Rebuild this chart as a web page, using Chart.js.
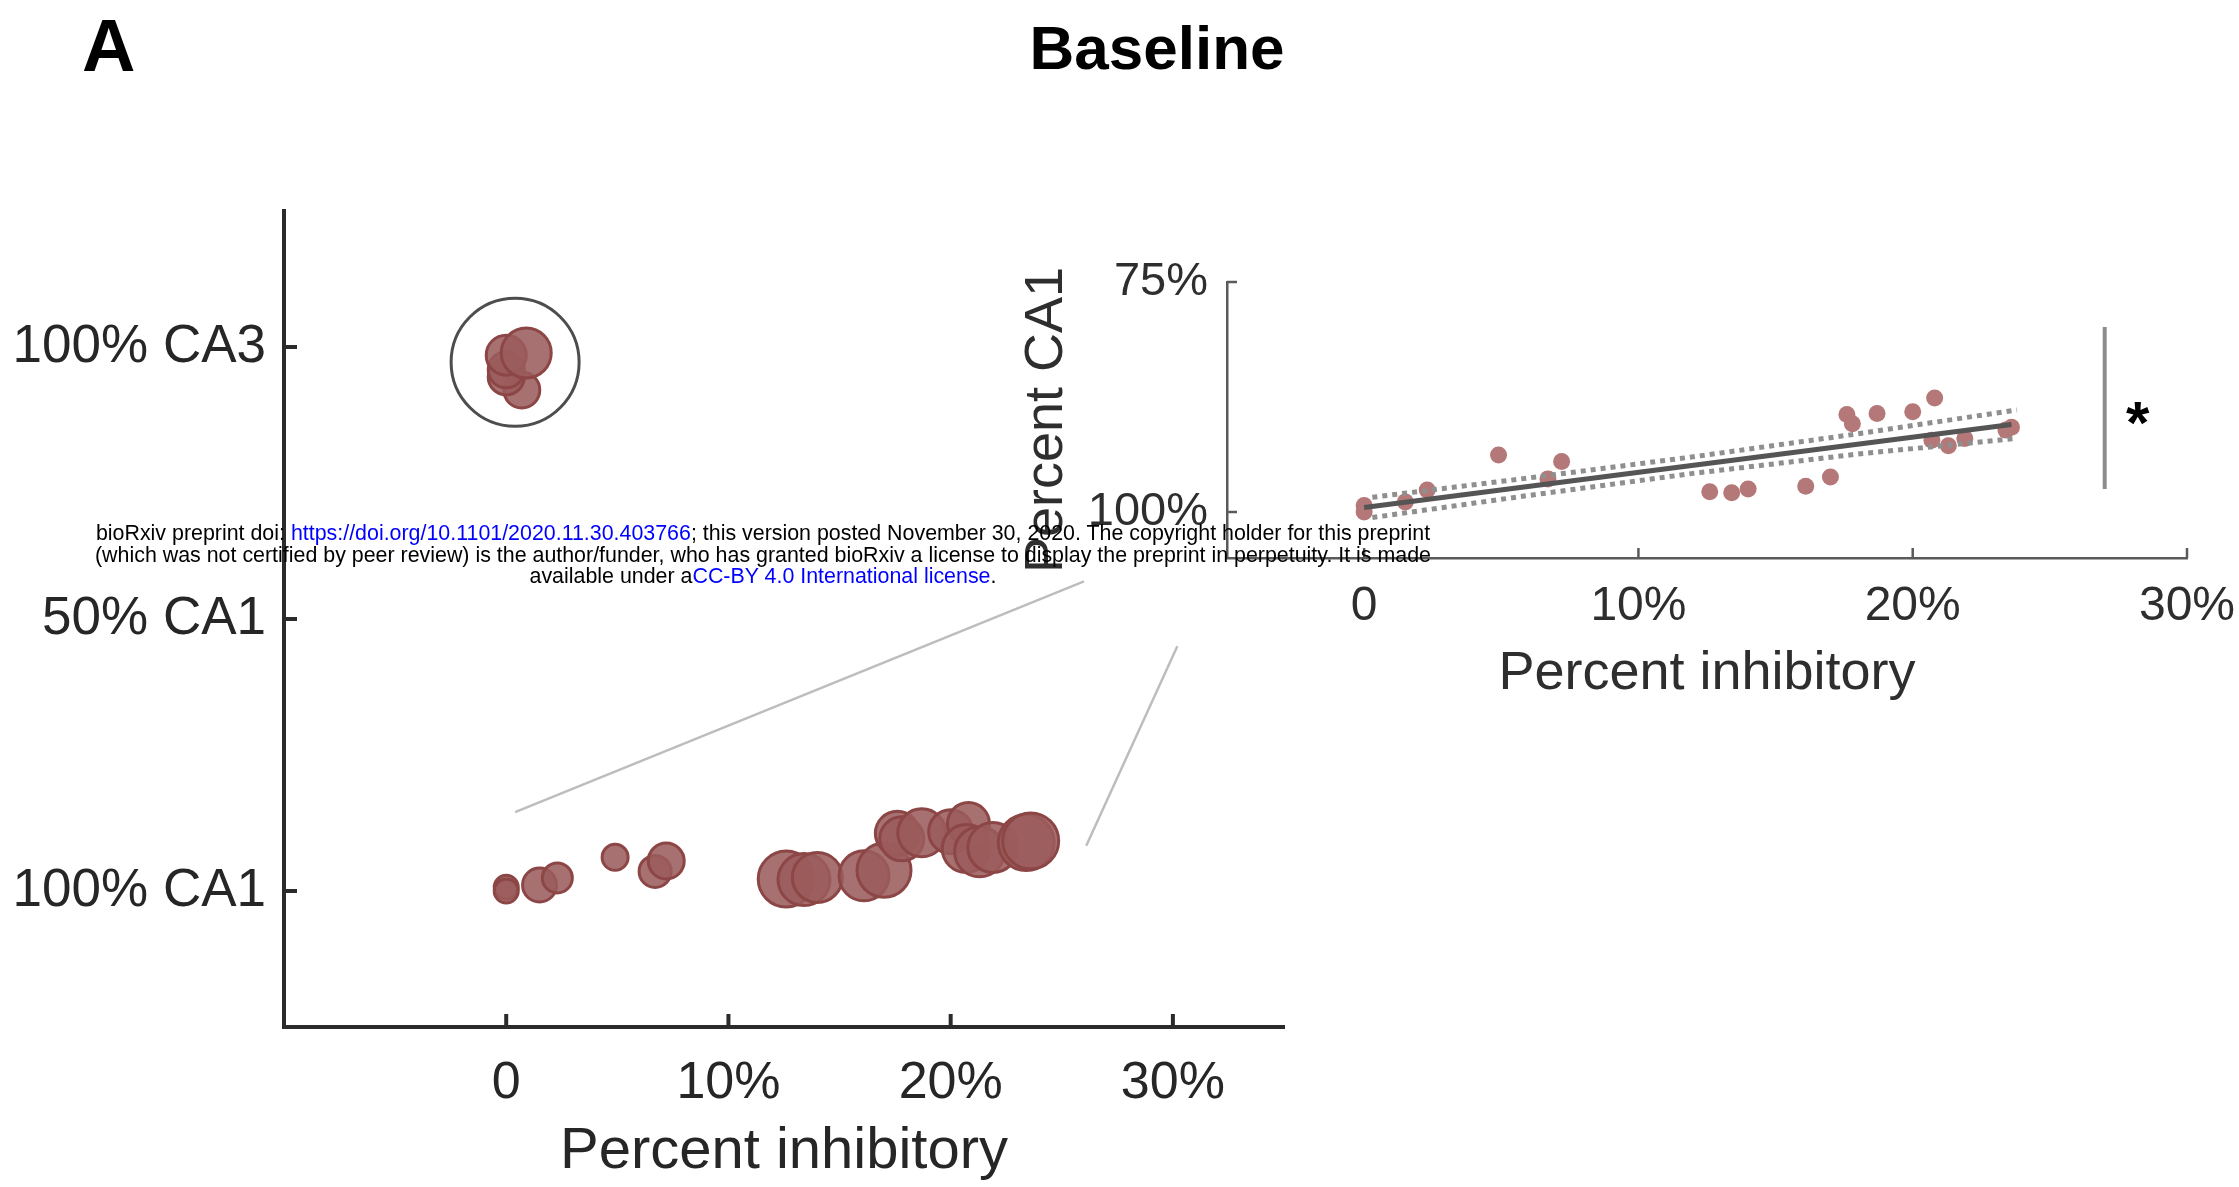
<!DOCTYPE html>
<html>
<head>
<meta charset="utf-8">
<title>Baseline</title>
<script src="https://cdn.jsdelivr.net/npm/chart.js@4.4.1/dist/chart.umd.min.js"></script>
<style>
  html, body { margin: 0; padding: 0; background: #fff; overflow: hidden; }
  body { position: relative; width: 2239px; height: 1187px; font-family: 'Liberation Sans', Arial, sans-serif; }
  canvas { position: absolute; }
  #main { left: 0; top: 0; z-index: 1; }
  #inset { left: 1000px; top: 200px; z-index: 2; }
  .txt { position: absolute; white-space: nowrap; color: #000; z-index: 3; }
  #panel { left: 82px; top: 9px; font: bold 74px/74px 'Liberation Sans', Arial, sans-serif; }
  #title { left: 857px; width: 600px; top: 17px; text-align: center; font: bold 62px/62px 'Liberation Sans', Arial, sans-serif; }
  #notice { left: 0; width: 1526px; top: 523px; text-align: center; font: 21.4px/21.6px 'Liberation Sans', Arial, sans-serif; }
  #notice span { color: #0000ff; }
</style>
</head>
<body>
<canvas id="main" width="1351" height="1187"></canvas>
<canvas id="inset" width="1239" height="560"></canvas>
<div id="panel" class="txt">A</div>
<div id="title" class="txt">Baseline</div>
<div id="notice" class="txt">bioRxiv preprint doi: <span>https://doi.org/10.1101/2020.11.30.403766</span>; this version posted November 30, 2020. The copyright holder for this preprint<br>(which was not certified by peer review) is the author/funder, who has granted bioRxiv a license to display the preprint in perpetuity. It is made<br>available under a<span>CC-BY 4.0 International license</span>.</div>
<script>
// slices recorded in CA1: percent inhibitory cells, percent CA1, bubble weight
const ca1Inhib  = [0, 0, 1.5, 2.3, 4.9, 6.7, 7.2, 12.6, 13.4, 14.0, 16.1, 17.0, 17.6, 17.8, 18.7, 20.0, 20.8, 20.7, 21.3, 21.9, 23.4, 23.6];
const ca1Pct    = [99.3, 100, 98.9, 97.6, 93.8, 96.4, 94.5, 97.8, 97.9, 97.5, 97.2, 96.2, 89.4, 90.4, 89.3, 89.1, 87.6, 92.2, 92.8, 92.0, 91.1, 90.8];
const ca1Weight = [12, 12, 17, 15, 13, 16, 18, 28, 26, 25, 25, 27, 22, 22, 24, 22, 21, 24, 25, 25, 28, 28];

// slices recorded in CA3
const ca3Inhib  = [0.7, 0, 0, 0, 0.9];
const ca3Pct    = [7.9, 5.5, 4.2, 1.5, 1.1];
const ca3Weight = [18, 18, 18, 20, 25];

// ring marking the CA3 group
const ringX = [0.4];
const ringY = [2.8];
const ringWeight = [64];

// guide lines from the CA1 group to the enlarged panel
const guideA = { x: [0.4, 26.0], y: [85.5, 43.1] };
const guideB = { x: [26.1, 30.2], y: [91.7, 55.0] };

// linear fit with confidence band (enlarged panel)
const fitX = [0, 23.6];
const fitY = [99.5, 90.5];
const bandX = [0.3, 6, 12, 18, 23.8];
const bandUpper = [98.4, 96.3, 94.0, 91.5, 88.9];
const bandLower = [100.6, 98.2, 95.8, 93.7, 92.0];

// significance bar and marker
const sigX = [27.0, 27.0];
const sigY = [79.9, 97.5];
const starAt = { x: 28.2, y: 89.1 };

// ticks
const xTickValues = [0, 10, 20, 30];
const xTickLabels = ['0', '10%', '20%', '30%'];
const mainYTickValues = [0, 50, 100];
const mainYTickLabels = ['100% CA3', '50% CA1', '100% CA1'];
const insetYTickValues = [75, 100];
const insetYTickLabels = ['75%', '100%'];

const FONT = "'Liberation Sans', Arial, sans-serif";
const BUBBLE_FILL = 'rgba(155, 92, 92, 0.87)';
const BUBBLE_EDGE = '#8c4646';

const zipPts = (xs, ys) => xs.map((x, i) => ({ x, y: ys[i] }));
const zipBubbles = (xs, ys, ws) => xs.map((x, i) => ({ x, y: ys[i], r: ws[i] }));

function fixedTicks(values) {
  return scale => { scale.ticks = values.map(v => ({ value: v })); };
}
function labelFor(values, labels) {
  return v => labels[values.indexOf(v)];
}
function fixedSize(prop, size) {
  return scale => {
    scale[prop] = size;
    scale.paddingLeft = scale.paddingRight = scale.paddingTop = scale.paddingBottom = 0;
  };
}

// MATLAB-style tick marks that point into the plot
function inwardTicks(len, width, color) {
  return {
    id: 'inwardTicks',
    afterDraw(chart) {
      const { ctx, chartArea: a, scales: { x, y } } = chart;
      ctx.save();
      ctx.strokeStyle = color;
      ctx.lineWidth = width;
      ctx.beginPath();
      x.ticks.forEach(t => {
        const px = x.getPixelForValue(t.value);
        ctx.moveTo(px, a.bottom);
        ctx.lineTo(px, a.bottom - len);
      });
      y.ticks.forEach(t => {
        const py = y.getPixelForValue(t.value);
        ctx.moveTo(a.left, py);
        ctx.lineTo(a.left + len, py);
      });
      ctx.stroke();
      ctx.restore();
    }
  };
}

const starPlugin = {
  id: 'star',
  afterDatasetsDraw(chart) {
    const { ctx, scales: { x, y } } = chart;
    ctx.save();
    ctx.fillStyle = '#000';
    ctx.font = 'bold 60px ' + FONT;
    ctx.textAlign = 'center';
    ctx.textBaseline = 'alphabetic';
    ctx.fillText('*', x.getPixelForValue(starAt.x), y.getPixelForValue(starAt.y) + 31);
    ctx.restore();
  }
};

// left panel: all slices
// (bubble overflow forces at least ~66px of side padding, hence right: 66)
new Chart(document.getElementById('main'), {
  type: 'bubble',
  data: {
    datasets: [
      {
        type: 'scatter', data: zipPts(guideA.x, guideA.y), showLine: true,
        borderColor: '#bdbdbd', borderWidth: 2.5, pointRadius: 0
      },
      {
        type: 'scatter', data: zipPts(guideB.x, guideB.y), showLine: true,
        borderColor: '#bdbdbd', borderWidth: 2.5, pointRadius: 0
      },
      {
        data: zipBubbles(ringX, ringY, ringWeight),
        backgroundColor: 'rgba(0,0,0,0)', borderColor: '#4d4d4d', borderWidth: 3
      },
      {
        data: zipBubbles(ca3Inhib, ca3Pct, ca3Weight),
        backgroundColor: BUBBLE_FILL, borderColor: BUBBLE_EDGE, borderWidth: 3
      },
      {
        data: zipBubbles(ca1Inhib, ca1Pct, ca1Weight),
        backgroundColor: BUBBLE_FILL, borderColor: BUBBLE_EDGE, borderWidth: 3
      }
    ]
  },
  options: {
    responsive: false,
    animation: false,
    events: [],
    layout: { padding: { top: 211, right: 66, bottom: 0, left: 0 } },
    plugins: { legend: { display: false }, tooltip: { enabled: false } },
    scales: {
      x: {
        type: 'linear', min: -10, max: 35,
        afterBuildTicks: fixedTicks(xTickValues),
        afterFit: fixedSize('height', 160),
        grid: { display: false, drawTicks: false },
        border: { display: true, color: '#2b2b2b', width: 4 },
        ticks: { callback: labelFor(xTickValues, xTickLabels), color: '#262626', padding: 25, font: { family: FONT, size: 52 } },
        title: { display: true, text: 'Percent inhibitory', color: '#262626', padding: { top: 0, bottom: 0 }, font: { family: FONT, size: 58 } }
      },
      y: {
        type: 'linear', min: -25, max: 125, reverse: true,
        afterBuildTicks: fixedTicks(mainYTickValues),
        afterFit: fixedSize('width', 284),
        grid: { display: false, drawTicks: false },
        border: { display: true, color: '#2b2b2b', width: 4 },
        ticks: { callback: labelFor(mainYTickValues, mainYTickLabels), color: '#262626', padding: 18, font: { family: FONT, size: 53 } }
      }
    }
  },
  plugins: [inwardTicks(13, 4, '#2b2b2b')]
});

// right panel: CA1 slices enlarged, with fit
new Chart(document.getElementById('inset'), {
  type: 'scatter',
  data: {
    datasets: [
      {
        data: zipPts(sigX, sigY), showLine: true,
        borderColor: '#8c8c8c', borderWidth: 4, pointRadius: 0
      },
      {
        data: zipPts(fitX, fitY), showLine: true,
        borderColor: '#555555', borderWidth: 5, pointRadius: 0
      },
      {
        data: zipPts(bandX, bandUpper), showLine: true, borderDash: [5, 5],
        borderColor: '#8f8f8f', borderWidth: 5, pointRadius: 0
      },
      {
        data: zipPts(bandX, bandLower), showLine: true, borderDash: [5, 5],
        borderColor: '#8f8f8f', borderWidth: 5, pointRadius: 0
      },
      {
        data: zipPts(ca1Inhib, ca1Pct),
        backgroundColor: '#b47878', borderWidth: 0, pointRadius: 8.5
      }
    ]
  },
  options: {
    responsive: false,
    animation: false,
    events: [],
    layout: { padding: { top: 82, right: 52, bottom: 0, left: 0 } },
    plugins: { legend: { display: false }, tooltip: { enabled: false } },
    scales: {
      x: {
        type: 'linear', min: -5, max: 30,
        afterBuildTicks: fixedTicks(xTickValues),
        afterFit: fixedSize('height', 202),
        grid: { display: false, drawTicks: false },
        border: { display: true, color: '#5a5a5a', width: 2.5 },
        ticks: { callback: labelFor(xTickValues, xTickLabels), color: '#2e2e2e', padding: 20, font: { family: FONT, size: 48 } },
        title: { display: true, text: 'Percent inhibitory', color: '#2e2e2e', padding: { top: 0, bottom: 53 }, font: { family: FONT, size: 54 } }
      },
      y: {
        type: 'linear', min: 75, max: 105, reverse: true,
        afterBuildTicks: fixedTicks(insetYTickValues),
        afterFit: fixedSize('width', 227),
        grid: { display: false, drawTicks: false },
        border: { display: true, color: '#5a5a5a', width: 2.5 },
        ticks: { callback: labelFor(insetYTickValues, insetYTickLabels), color: '#2e2e2e', padding: 19, font: { family: FONT, size: 47 } },
        title: { display: true, text: 'Percent CA1', color: '#2e2e2e', padding: { top: 15, bottom: 0 }, font: { family: FONT, size: 54 } }
      }
    }
  },
  plugins: [inwardTicks(10, 2.5, '#5a5a5a'), starPlugin]
});
</script>
</body>
</html>
